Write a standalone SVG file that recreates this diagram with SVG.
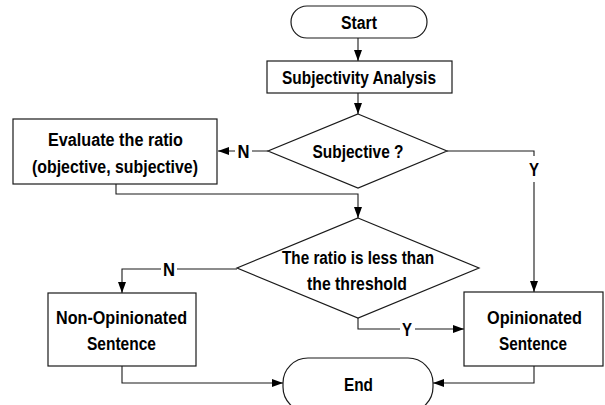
<svg xmlns="http://www.w3.org/2000/svg" width="605" height="405" viewBox="0 0 605 405">
  <style>
    .shape { fill: #fff; stroke: #1a1a1a; stroke-width: 1.2; }
    .wire { fill: none; stroke: #1a1a1a; stroke-width: 1.1; }
    .lbl { font-family: "Liberation Sans Narrow", "Liberation Sans", Arial, sans-serif; font-weight: bold; font-size: 18px; fill: #000; text-anchor: middle; }
    .gap { fill: #fff; stroke: none; }
  </style>
  <defs>
    <marker id="arrow" markerUnits="userSpaceOnUse" markerWidth="11" markerHeight="8" refX="11" refY="4" orient="auto">
      <path d="M0,0 L11,4 L0,8 z" fill="#000"/>
    </marker>
  </defs>

  <!-- connectors -->
  <g id="connectors">
    <path class="wire" d="M358,38 V61" marker-end="url(#arrow)"/>
    <path class="wire" d="M358,93 V114" marker-end="url(#arrow)"/>
    <path class="wire" d="M268,151 H218" marker-end="url(#arrow)"/>
    <path class="wire" d="M447,151 H534 V292" marker-end="url(#arrow)"/>
    <path class="wire" d="M116,184 V194 H358 V218" marker-end="url(#arrow)"/>
    <path class="wire" d="M237,269 H122 V293" marker-end="url(#arrow)"/>
    <path class="wire" d="M358,318 V329 H464" marker-end="url(#arrow)"/>
    <path class="wire" d="M122,366 V383 H283" marker-end="url(#arrow)"/>
    <path class="wire" d="M534,366 V383 H433" marker-end="url(#arrow)"/>

    <!-- branch labels -->
    <rect class="gap" x="235" y="143" width="17" height="16"/>
    <text class="lbl" x="243.5" y="157.5" textLength="12" lengthAdjust="spacingAndGlyphs">N</text>
    <rect class="gap" x="527" y="156" width="15" height="26"/>
    <text class="lbl" x="534" y="176" textLength="10" lengthAdjust="spacingAndGlyphs">Y</text>
    <rect class="gap" x="161" y="261" width="16" height="16"/>
    <text class="lbl" x="169" y="275.5" textLength="12" lengthAdjust="spacingAndGlyphs">N</text>
    <rect class="gap" x="400" y="321" width="15" height="16"/>
    <text class="lbl" x="407" y="335.5" textLength="10" lengthAdjust="spacingAndGlyphs">Y</text>
  </g>

  <g id="start">
    <rect class="shape" x="291" y="6" width="136" height="32" rx="16" ry="16"/>
    <text class="lbl" x="359" y="28.5" textLength="36" lengthAdjust="spacingAndGlyphs">Start</text>
  </g>

  <g id="subjectivity-analysis">
    <rect class="shape" x="267" y="61" width="185" height="32"/>
    <text class="lbl" x="359" y="83.5" textLength="154" lengthAdjust="spacingAndGlyphs">Subjectivity Analysis</text>
  </g>

  <g id="subjective-decision">
    <polygon class="shape" points="358,114 447,151 358,188 268,151"/>
    <text class="lbl" x="358" y="157.5" textLength="91" lengthAdjust="spacingAndGlyphs">Subjective ?</text>
  </g>

  <g id="evaluate-ratio">
    <rect class="shape" x="13" y="119" width="204" height="65"/>
    <text class="lbl" x="115.5" y="145.5" textLength="135" lengthAdjust="spacingAndGlyphs">Evaluate the ratio</text>
    <text class="lbl" x="115" y="172.5" textLength="166" lengthAdjust="spacingAndGlyphs">(objective, subjective)</text>
  </g>

  <g id="ratio-decision">
    <polygon class="shape" points="358,218 479,268 358,318 237,268"/>
    <text class="lbl" x="358" y="263.5" textLength="152" lengthAdjust="spacingAndGlyphs">The ratio is less than</text>
    <text class="lbl" x="357" y="289.5" textLength="100" lengthAdjust="spacingAndGlyphs">the threshold</text>
  </g>

  <g id="non-opinionated">
    <rect class="shape" x="48" y="293" width="148" height="73"/>
    <text class="lbl" x="121.5" y="323.5" textLength="131" lengthAdjust="spacingAndGlyphs">Non-Opinionated</text>
    <text class="lbl" x="121.5" y="349.5" textLength="69" lengthAdjust="spacingAndGlyphs">Sentence</text>
  </g>

  <g id="opinionated">
    <rect class="shape" x="464" y="292" width="139" height="74"/>
    <text class="lbl" x="534.5" y="323.5" textLength="95" lengthAdjust="spacingAndGlyphs">Opinionated</text>
    <text class="lbl" x="533" y="349.5" textLength="68" lengthAdjust="spacingAndGlyphs">Sentence</text>
  </g>

  <g id="end">
    <rect class="shape" x="283" y="358" width="150" height="54" rx="25" ry="25"/>
    <text class="lbl" x="358.5" y="390.5" textLength="29" lengthAdjust="spacingAndGlyphs">End</text>
  </g>
</svg>
